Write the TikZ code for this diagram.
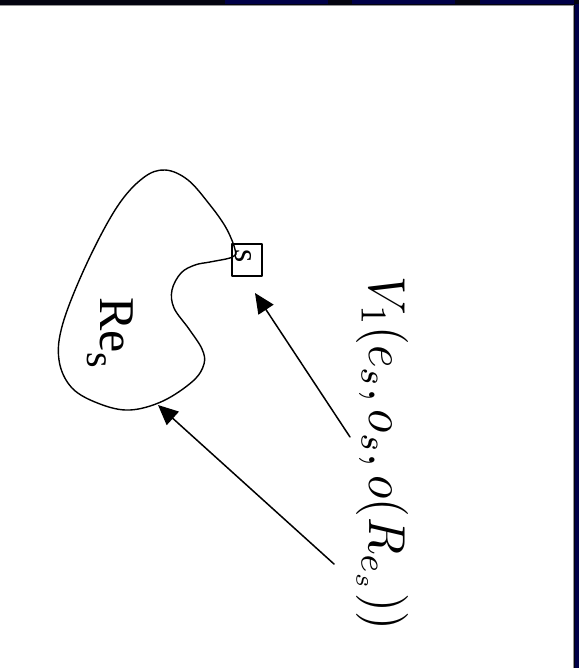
\documentclass[tikz,border=0pt]{standalone}
\usepackage{fontspec}
\newfontfamily\tms{Liberation Serif}
\usetikzlibrary{arrows.meta}
\definecolor{navy}{RGB}{0,0,72}
\definecolor{nearblack}{RGB}{4,4,16}
\definecolor{edgegray}{RGB}{150,150,150}
\begin{document}
\begin{tikzpicture}[x=1pt,y=-1pt, line cap=round, line join=round,
  outline/.style={line width=1.4pt},
  pointer/.style={line width=1.5pt, -{Triangle[length=20pt,width=18pt]}},
  seriflabel/.style={inner sep=0pt, rotate=-90, anchor=base west}]
\useasboundingbox (0,0) rectangle (579,668);
% frame
\fill[white] (0,0) rectangle (579,668);
\fill[nearblack] (0,0) rectangle (579,5.2);
\fill[navy] (225,0) rectangle (328,4.2);
\fill[navy] (352,0) rectangle (455,4.2);
\fill[navy] (480,0) rectangle (579,4.2);
\fill[nearblack] (573.5,0) rectangle (579,668);
\fill[navy] (575.3,4.2) rectangle (579,668);
\draw[edgegray, line width=0.8pt] (0,5.8) -- (573,5.8) -- (573,668);
% region outline
\draw[outline] plot[smooth, tension=0.6] coordinates {
  (236,254) (230,258) (210,262) (195,265) (181,273) (172,290) (174,308)
  (189,329) (202,349) (204,364) (193,381) (163,401) (130,410) (100,404)
  (72,388) (59,360) (63,323) (87,263) (117,207) (143,178) (165,170)
  (188,180) (210,205) (225,226) (233,243) (236,254)};
% s box
\node[draw, line width=1.3pt, minimum width=30pt, minimum height=32pt, inner sep=0pt] (sbox) at (247,260) {};
\node[seriflabel, font=\tms\fontsize{34}{40}\selectfont] (stext) at (235,249) {s};
% Re_s label
\node[seriflabel, font=\tms\fontsize{50}{60}\selectfont] (res) at (100,297)
  {Re\raisebox{-13pt}{\fontsize{40}{48}\selectfont s}};
% formula
\node[seriflabel, xscale=4.82, yscale=5.2] (formula) at (369.5,276) {$V_1(e_s,o_s,o(R_{e_s}))$};
% arrows
\coordinate (t1) at (350,437);
\coordinate (h1) at (255,293);
\coordinate (t2) at (334,564);
\coordinate (h2) at (158,405);
\draw[pointer] (t1) -- (h1);
\draw[pointer] (t2) -- (h2);
\end{tikzpicture}
\end{document}
